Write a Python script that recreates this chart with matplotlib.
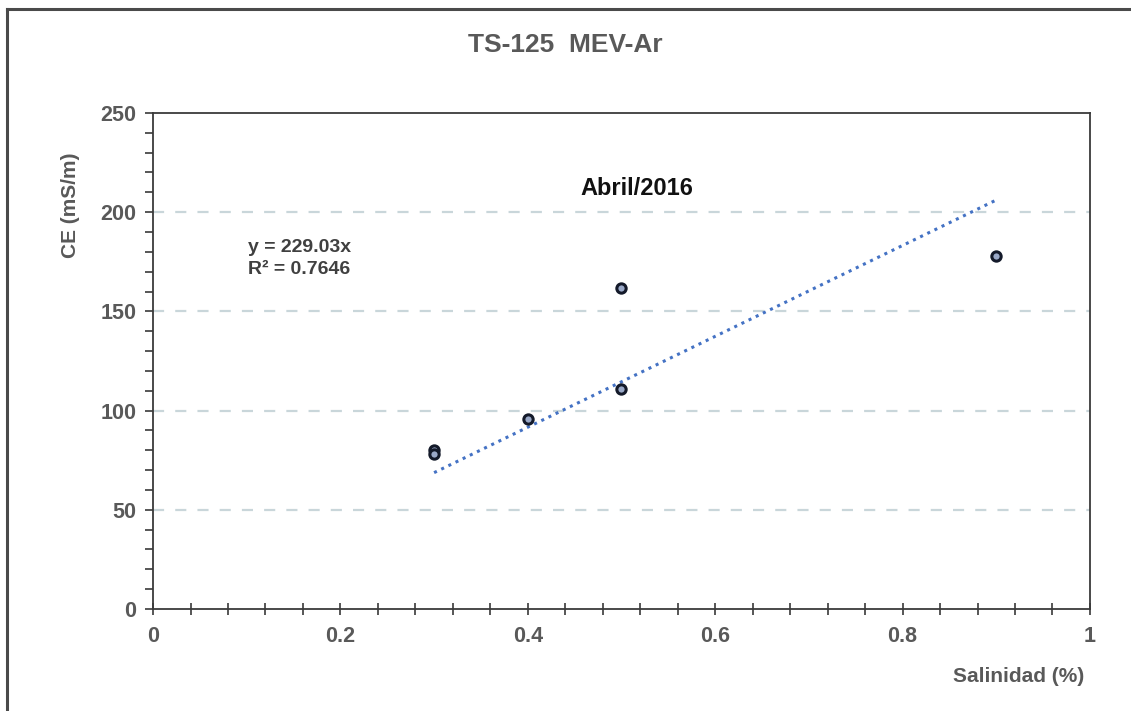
import matplotlib
matplotlib.use("Agg")
import matplotlib.pyplot as plt
from matplotlib.ticker import MultipleLocator, FormatStrFormatter
from matplotlib.lines import Line2D

plt.rcParams['font.family'] = ['Liberation Sans', 'DejaVu Sans']

# muestras de abril 2016
salinidad = [0.3, 0.3, 0.4, 0.5, 0.5, 0.9]
ce = [80, 78, 96, 162, 111, 178]

# ajuste lineal por el origen
pendiente = 229.03
r2 = 0.7646
x_tend = [0.3, 0.9]

gris = '#595959'

fig = plt.figure(figsize=(11.31, 7.11), dpi=100)
ax = fig.add_axes([0.1353, 0.1435, 0.8284, 0.6976])

# lineas de referencia horizontales
for yv in [50, 100, 150, 200]:
    ax.axhline(yv, color='#c9d6da', lw=1.6, ls=(0, (5, 5)), zorder=1)

ax.plot(x_tend, [pendiente * x for x in x_tend], color='#4472c4',
        lw=2.2, ls=(0, (1, 1.6)), zorder=2)
ax.scatter(salinidad, ce, s=45, facecolor='#9aa9c8', edgecolor='#141a2a',
           linewidth=2.2, zorder=3)

ax.set_xlim(0, 1)
ax.set_ylim(0, 250)
ax.xaxis.set_major_locator(MultipleLocator(0.2))
ax.xaxis.set_minor_locator(MultipleLocator(0.04))
ax.yaxis.set_major_locator(MultipleLocator(50))
ax.yaxis.set_minor_locator(MultipleLocator(10))
ax.xaxis.set_major_formatter(FormatStrFormatter('%g'))

for s in ax.spines.values():
    s.set_color('#3a3a3a')
    s.set_linewidth(1.3)

ax.tick_params(axis='x', which='both', direction='inout', length=9,
               width=1.2, color='#3a3a3a', pad=8)
ax.tick_params(axis='y', which='both', direction='out', length=6,
               width=1.2, color='#3a3a3a', pad=6)
ax.tick_params(axis='both', which='major', labelsize=15.5, labelcolor=gris)
for lbl in ax.get_xticklabels() + ax.get_yticklabels():
    lbl.set_fontweight('bold')

fig.text(0.4995, 0.937, 'TS-125  MEV-Ar', ha='center', va='center',
         fontsize=19, fontweight='bold', color=gris)
fig.text(0.062, 0.712, 'CE (mS/m)', rotation=90, ha='center', va='center',
         fontsize=15, fontweight='bold', color=gris)
fig.text(0.959, 0.049, 'Salinidad (%)', ha='right', va='center',
         fontsize=15, fontweight='bold', color=gris)

ax.text(0.516, 212, 'Abril/2016', ha='center', va='center',
        fontsize=17, fontweight='bold', color='#111111')
ax.text(0.101, 182, 'y = %.2fx' % pendiente, ha='left', va='center',
        fontsize=14, fontweight='bold', color='#404040')
ax.text(0.101, 171, 'R\u00b2 = %.4f' % r2, ha='left', va='center',
        fontsize=14, fontweight='bold', color='#404040')

# marco exterior del grafico
fig.add_artist(Line2D([0.0058, 0.0058], [0, 0.988], transform=fig.transFigure,
                      color='#4a4a4a', lw=2.2))
fig.add_artist(Line2D([0.0058, 1.0], [0.988, 0.988], transform=fig.transFigure,
                      color='#4a4a4a', lw=2.2))

fig.savefig('out.png', dpi=100)
